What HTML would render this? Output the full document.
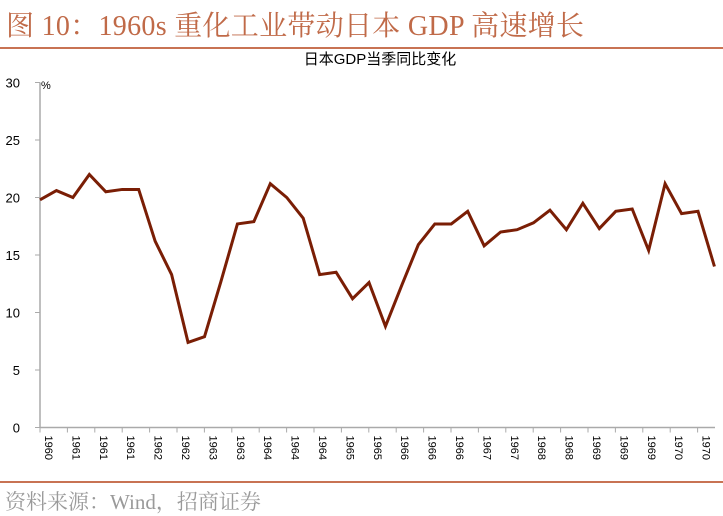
<!DOCTYPE html>
<html><head><meta charset="utf-8"><style>
body{margin:0;background:#fff;width:723px;height:516px;overflow:hidden;position:relative;font-family:"Liberation Serif","Noto Serif CJK SC",serif}
.t{position:absolute;left:6px;top:4px;font-size:28px;color:#c06a48;white-space:nowrap;letter-spacing:0.3px}
.r{position:absolute;left:0;width:723px;height:2px;background:#c87353}
.f{position:absolute;left:5px;top:486px;font-size:21px;color:#9a9a9a;white-space:nowrap}
</style></head><body>
<div class="t">图 10：1960s 重化工业带动日本 GDP 高速增长</div>
<div class="r" style="top:47px"></div>
<svg id="c" width="723" height="516" style="position:absolute;left:0;top:0"></svg>
<div class="r" style="top:481px"></div>
<div class="f">资料来源：Wind，招商证券</div>
<script>
const values=[19.8,20.6,20,22,20.5,20.7,20.7,16.2,13.3,7.4,7.9,12.7,17.7,17.9,21.2,20,18.2,13.3,13.5,11.2,12.6,8.8,12.4,15.9,17.7,17.7,18.8,15.8,17,17.2,17.8,18.9,17.2,19.5,17.3,18.8,19,15.4,21.2,18.6,18.8,14.0];
const xLabels=["1960","1961","1961","1961","1962","1962","1963","1963","1964","1964","1964","1965","1965","1966","1966","1966","1967","1967","1968","1968","1969","1969","1969","1970","1970"];
const yTicks=[0,5,10,15,20,25,30];
const NS="http://www.w3.org/2000/svg",svg=document.getElementById('c');
const x0=40,x1=715,y0=427.5,ppu=11.5;
const xs=i=>x0+i*16.45, ys=v=>y0-v*ppu;
function mk(t,a){const e=document.createElementNS(NS,t);for(const k in a)e.setAttribute(k,a[k]);svg.appendChild(e);return e;}
let e=mk('text',{x:380,y:64,'text-anchor':'middle','font-size':15,'font-family':'"Liberation Sans","Noto Sans CJK SC",sans-serif',fill:'#000'});e.textContent='日本GDP当季同比变化';


e=mk('line',{x1:x0,y1:ys(30),x2:x0,y2:y0,stroke:'#aaa','stroke-width':1.5});


e=mk('line',{x1:x0,y1:y0,x2:x1,y2:y0,stroke:'#aaa','stroke-width':1.5});


yTicks.forEach(v=>{
 let l=mk('line',{x1:x0-5,y1:ys(v),x2:x0,y2:ys(v),stroke:'#aaa'});
 
 
 let t=mk('text',{x:20,y:ys(v)+5,'text-anchor':'end','font-size':13,'font-family':'"Liberation Sans",sans-serif',fill:'#000'});t.textContent=v;
 
 
});
e=mk('text',{x:41,y:89,'font-size':11,'font-family':'"Liberation Sans",sans-serif',fill:'#000'});e.textContent='%';


xLabels.forEach((s,j)=>{
 const x=x0+j*27.4;
 let l=mk('line',{x1:x,y1:y0,x2:x,y2:y0+5,stroke:'#aaa'});
 
 
 let t=mk('text',{x:0,y:0,transform:`translate(${x+5},${y0+8}) rotate(90)`,'font-size':11,'font-family':'"Liberation Sans",sans-serif',fill:'#000'});t.textContent=s;
 
 
});
e=mk('polyline',{points:values.map((v,i)=>xs(i)+','+ys(v)).join(' '),fill:'none',stroke:'#7a1e05','stroke-width':3,'stroke-linejoin':'miter'});


</script>
</body></html>
